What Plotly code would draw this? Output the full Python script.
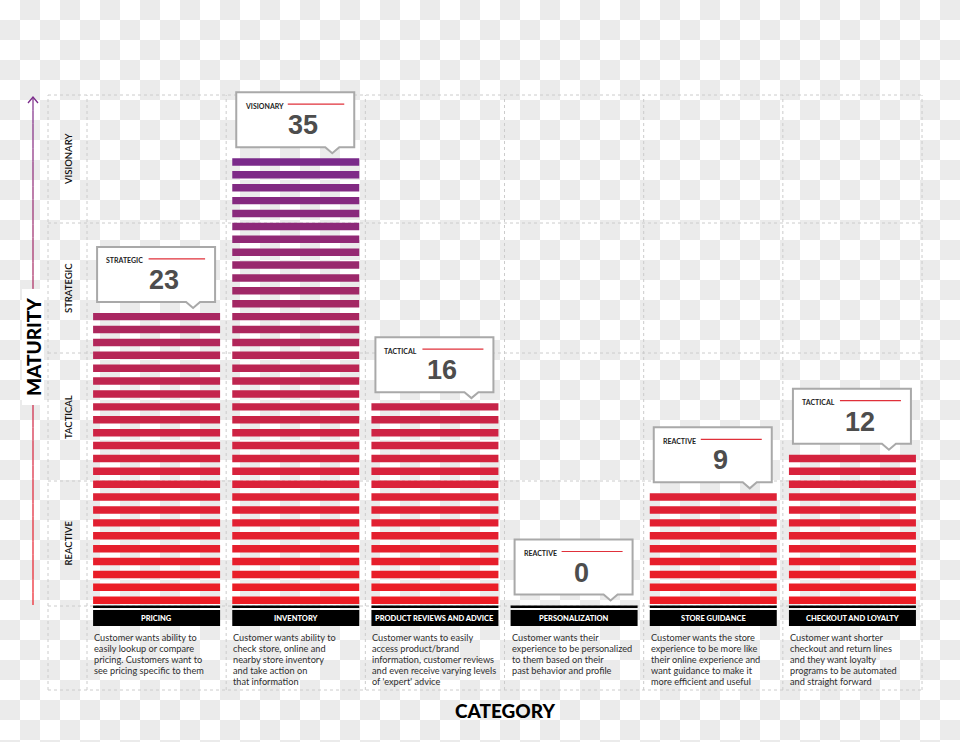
import base64
import plotly.graph_objects as go

# ---------------- data ----------------
categories = ["PRICING", "INVENTORY", "PRODUCT REVIEWS AND ADVICE",
              "PERSONALIZATION", "STORE GUIDANCE", "CHECKOUT AND LOYALTY"]
scores = [23, 35, 16, 0, 9, 12]
levels = ["STRATEGIC", "VISIONARY", "TACTICAL", "REACTIVE", "REACTIVE", "TACTICAL"]
descriptions = [
    "Customer wants ability to<br>easily lookup or compare<br>pricing. Customers want to<br>see pricing specific to them",
    "Customer wants ability to<br>check store, online and<br>nearby store inventory<br>and take action on<br>that information",
    "Customer wants to easily<br>access product/brand<br>information, customer reviews<br>and even receive varying levels<br>of 'expert' advice",
    "Customer wants their<br>experience to be personalized<br>to them based on their<br>past behavior and profile",
    "Customer wants the store<br>experience to be more like<br>their online experience and<br>want guidance to make it<br>more efficient and useful",
    "Customer want shorter<br>checkout and return lines<br>and they want loyalty<br>programs to be automated<br>and straight forward",
]
maturity_names = ["REACTIVE", "TACTICAL", "STRATEGIC", "VISIONARY"]

# ---------------- geometry helpers ----------------
W, H = 960, 742
XU = 139.17      # px per category slot
YU = 12.89       # px per score unit
X0PX = 87.0      # pixel of x = -0.5
Y0PX = 605.5     # pixel of y = 0


def X(px):
    return -0.5 + (px - X0PX) / XU


def Y(py):
    return (Y0PX - py) / YU


def dx(p):
    return p / XU


def dy(p):
    return p / YU


BAR_W = 127 / XU
STRIPE_H = 0.58
STRIPE_OFF = 0.12

stops = [(0, (237, 28, 36)), (8, (222, 34, 54)), (16, (196, 36, 76)),
         (23, (164, 40, 100)), (34, (122, 42, 138))]


def grad(t):
    if t <= stops[0][0]:
        c = stops[0][1]
    elif t >= stops[-1][0]:
        c = stops[-1][1]
    else:
        for (a, ca), (b, cb) in zip(stops[:-1], stops[1:]):
            if a <= t <= b:
                f = (t - a) / (b - a)
                c = tuple(ca[j] + (cb[j] - ca[j]) * f for j in range(3))
                break
    return "rgb(%d,%d,%d)" % tuple(int(round(v)) for v in c)


fig = go.Figure()

# stripes (one stripe per score unit)
xs, bases, cols = [], [], []
for i, v in enumerate(scores):
    for k in range(v):
        xs.append(i)
        bases.append(k + STRIPE_OFF)
        cols.append(grad(k))
fig.add_trace(go.Bar(x=xs, y=[STRIPE_H] * len(xs), base=bases, width=BAR_W,
                     marker=dict(color=cols, line=dict(width=0)),
                     hoverinfo="skip", showlegend=False))

shapes = []
annotations = []
GRID = dict(color="#cccccc", width=1, dash="dot")

# outer dotted frame and grid
band_px = [606, 481, 353, 223, 95]
left_x, right_x = X(48), X(922)
top_y, bot_y = Y(95), Y(690)
for py in band_px:
    shapes.append(dict(type="line", xref="x", yref="y", x0=left_x, x1=right_x,
                       y0=Y(py), y1=Y(py), line=GRID, layer="below"))
shapes.append(dict(type="line", xref="x", yref="y", x0=left_x, x1=right_x,
                   y0=bot_y, y1=bot_y, line=GRID, layer="below"))
shapes.append(dict(type="line", xref="x", yref="y", x0=left_x, x1=left_x,
                   y0=bot_y, y1=top_y, line=GRID, layer="below"))
for i in range(len(categories) + 1):
    xv = i - 0.5
    shapes.append(dict(type="line", xref="x", yref="y", x0=xv, x1=xv,
                       y0=bot_y, y1=top_y, line=GRID, layer="below"))

# maturity band labels
for j, name in enumerate(maturity_names):
    yc = (Y(band_px[j]) + Y(band_px[j + 1])) / 2
    annotations.append(dict(x=X(68), y=yc, xref="x", yref="y", text=name,
                            textangle=-90, showarrow=False,
                            font=dict(family="Lato", size=9.5, color="#111111", weight=600)))

# maturity arrow with gradient
n_seg = 40
ya, yb = 605, 98
for s in range(n_seg):
    p0 = ya + (yb - ya) * s / n_seg
    p1 = ya + (yb - ya) * (s + 1) / n_seg
    shapes.append(dict(type="line", xref="x", yref="y", x0=X(33), x1=X(33),
                       y0=Y(p0), y1=Y(p1),
                       line=dict(color=grad(34 * (s + 0.5) / n_seg), width=1.2)))
shapes.append(dict(type="path", xref="x", yref="y",
                   path="M %f,%f L %f,%f L %f,%f" % (X(28), Y(103), X(33), Y(97), X(38), Y(103)),
                   line=dict(color=grad(34), width=1.3)))
shapes.append(dict(type="rect", xref="x", yref="y", x0=X(22), x1=X(44),
                   y0=Y(405), y1=Y(289), fillcolor="white", line=dict(width=0)))
annotations.append(dict(x=X(33), y=Y(347), xref="x", yref="y", text="MATURITY",
                        textangle=-90, showarrow=False,
                        font=dict(family="Lato", size=19, color="#000000", weight=900)))

annotations.append(dict(x=X(505), y=Y(710), xref="x", yref="y", text="CATEGORY",
                        showarrow=False,
                        font=dict(family="Lato", size=19, color="#000000", weight=900)))

# per-category decorations
for i, (cat, v, lvl, desc) in enumerate(zip(categories, scores, levels, descriptions)):
    bl = i - BAR_W / 2
    br = i + BAR_W / 2
    # black base line and label box
    shapes.append(dict(type="rect", xref="x", yref="y", x0=bl, x1=br,
                       y0=-0.2, y1=0.0, fillcolor="#000000", line=dict(width=0)))
    shapes.append(dict(type="rect", xref="x", yref="y", x0=bl, x1=br,
                       y0=Y(626), y1=Y(610), fillcolor="#000000", line=dict(width=0)))
    annotations.append(dict(x=i, y=Y(618), xref="x", yref="y", text=cat,
                            showarrow=False,
                            font=dict(family="Lato", size=7.5, color="#ffffff", weight=900)))
    for j, line in enumerate(desc.split("<br>")):
        annotations.append(dict(x=bl - dx(1), y=Y(637 + 11 * j), xref="x", yref="y",
                                text=line, xanchor="left", yanchor="middle",
                                showarrow=False,
                                font=dict(family="Lato", size=9.2, color="#2e2e2e")))
    # callout
    bar_top = max(v - 1 + STRIPE_OFF + STRIPE_H, 0)
    cb = bar_top + dy(11)
    ct = cb + dy(55)
    cl = bl + dx(4)
    cr = cl + dx(118)
    path = ("M %f,%f L %f,%f L %f,%f L %f,%f L %f,%f L %f,%f L %f,%f Z" % (
        cl, cb, cr - dx(29), cb, cr - dx(22), cb - dy(6), cr - dx(15), cb,
        cr, cb, cr, ct, cl, ct))
    shapes.append(dict(type="path", xref="x", yref="y", path=path,
                       fillcolor="#ffffff", line=dict(color="#a9a9a9", width=2)))
    lbl_w = len(lvl) * 4.5
    shapes.append(dict(type="line", xref="x", yref="y",
                       x0=cl + dx(8 + lbl_w + 3), x1=cr - dx(10),
                       y0=ct - dy(12), y1=ct - dy(12),
                       line=dict(color="#e0303a", width=1.2)))
    annotations.append(dict(x=cl + dx(7), y=ct - dy(13.5), xref="x", yref="y", text=lvl,
                            xanchor="left", yanchor="middle", showarrow=False,
                            font=dict(family="Lato", size=7, color="#222222", weight=700)))
    annotations.append(dict(x=(cl + cr) / 2 + dx(8), y=ct - dy(33), xref="x", yref="y",
                            text=str(v), showarrow=False,
                            font=dict(family="Liberation Sans", size=27, color="#4d4d4d",
                                      weight=700)))

# checkerboard backdrop
svg = ('<svg xmlns="http://www.w3.org/2000/svg" width="960" height="742">'
       '<defs><pattern id="c" width="40" height="40" patternUnits="userSpaceOnUse">'
       '<rect width="40" height="40" fill="#ffffff"/>'
       '<rect x="20" y="0" width="20" height="20" fill="#ebebeb"/>'
       '<rect x="0" y="20" width="20" height="20" fill="#ebebeb"/>'
       '</pattern></defs><rect width="960" height="742" fill="url(#c)"/></svg>')
src = "data:image/svg+xml;base64," + base64.b64encode(svg.encode()).decode()

fig.update_layout(
    width=W, height=H,
    margin=dict(l=0, r=0, t=0, b=0),
    paper_bgcolor="#ffffff",
    plot_bgcolor="rgba(0,0,0,0)",
    barmode="overlay",
    xaxis=dict(range=[X(0), X(W)], visible=False, fixedrange=True),
    yaxis=dict(range=[Y(H), Y(0)], visible=False, fixedrange=True),
    shapes=shapes,
    annotations=annotations,
    images=[dict(source=src, xref="paper", yref="paper", x=0, y=1, sizex=1, sizey=1,
                 xanchor="left", yanchor="top", sizing="stretch", layer="below")],
    showlegend=False,
)

fig.write_html("out.html", config={"displayModeBar": False},
               post_script="document.body.style.margin='0';document.body.style.overflow='hidden';")
